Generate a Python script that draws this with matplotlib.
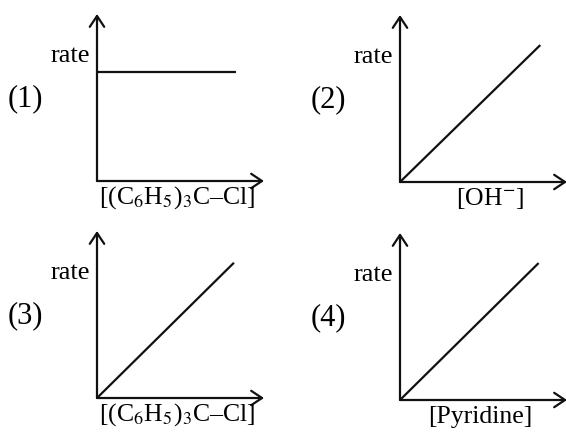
import matplotlib
matplotlib.use("Agg")
from matplotlib import pyplot as plt

plt.rcParams['font.family'] = ['Liberation Serif', 'DejaVu Serif']
plt.rcParams['mathtext.fontset'] = 'stix'

# 每个小图的数据 (concentration, rate)
panel_ids = ['(1)', '(2)', '(3)', '(4)']
x_labels = [r'[(C$_6$H$_5$)$_3$C–Cl]', r'[OH$^{-}$]',
            r'[(C$_6$H$_5$)$_3$C–Cl]', '[Pyridine]']
conc = [[0, 0.83], [0, 0.84], [0, 0.82], [0, 0.83]]
rate = [[0.65, 0.65], [0, 0.82], [0, 0.81], [0, 0.82]]

W, H = 566, 432
fig = plt.figure(figsize=(W / 100, H / 100), dpi=100)

# origin of each panel in pixels (x, y from top)
origins = [(97, 181), (400, 182), (97, 398), (400, 400)]
label_x = [0.48, 0.54, 0.48, 0.48]
size = 167

arrow = dict(arrowstyle='->,head_length=0.6,head_width=0.4',
             lw=1.6, color='#111111', mutation_scale=13,
             shrinkA=0, shrinkB=0)

for i in range(4):
    x0, y0 = origins[i]
    ax = fig.add_axes([x0 / W, (H - y0) / H, size / W, size / H])
    ax.set_xlim(0, 1)
    ax.set_ylim(0, 1)
    ax.axis('off')

    # 坐标轴箭头
    ax.annotate('', xy=(1, 0), xytext=(0, 0), xycoords='axes fraction',
                arrowprops=arrow, annotation_clip=False)
    ax.annotate('', xy=(0, 1), xytext=(0, 0), xycoords='axes fraction',
                arrowprops=arrow, annotation_clip=False)

    ax.plot(conc[i], rate[i], color='#111111', lw=1.6,
            solid_capstyle='butt', clip_on=False)

    ax.text(-0.04, 0.75, 'rate', transform=ax.transAxes,
            ha='right', va='center', fontsize=19)
    ax.text(-0.43, 0.49, panel_ids[i], transform=ax.transAxes,
            ha='center', va='center', fontsize=22)
    ax.text(label_x[i], -0.1, x_labels[i], transform=ax.transAxes,
            ha='center', va='center', fontsize=18.5)

fig.savefig('out.png', dpi=100)
